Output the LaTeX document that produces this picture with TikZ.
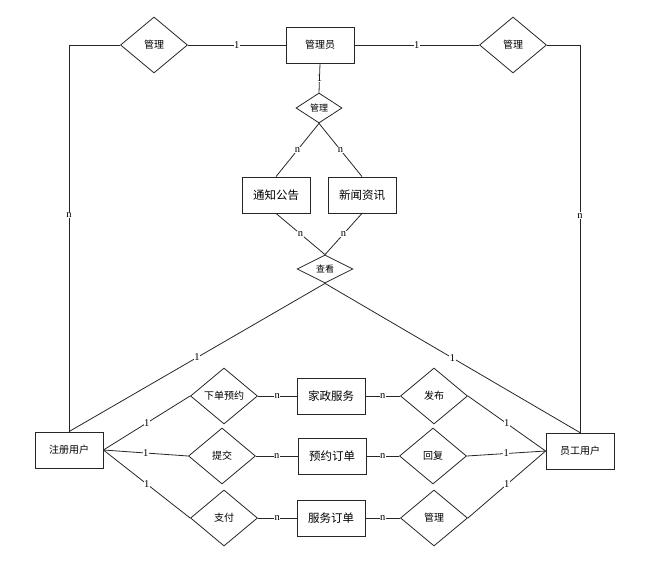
\documentclass[tikz,border=0pt]{standalone}
\usepackage{fontspec}
\setmainfont{Liberation Serif}
\newfontfamily\cjk{Noto Sans CJK SC}
\usetikzlibrary{shapes.geometric}
\begin{document}
\begin{tikzpicture}[x=1pt,y=-1pt, line width=0.8pt, draw=black!85,
  ent/.style={draw, rectangle, minimum width=68pt, minimum height=36pt, inner sep=0pt, font=\cjk\fontsize{11.5}{13}\selectfont},
  sent/.style={ent, font=\cjk\fontsize{10}{12}\selectfont},
  rel/.style={draw, diamond, minimum width=67pt, minimum height=56pt, inner sep=0pt, font=\cjk\fontsize{10}{12}\selectfont},
  lbl/.style={fill=white, inner sep=0.6pt, font=\fontsize{10.5}{11}\selectfont}]
\useasboundingbox (0,0) rectangle (664,562);
% entities
\node[sent] (admin) at (320,45) {管理员};
\node[ent] (notice) at (276,195) {通知公告};
\node[ent] (news) at (362,195) {新闻资讯};
\node[sent] (user) at (69,450) {注册用户};
\node[sent] (staff) at (580,451) {员工用户};
\node[ent] (svc) at (331,396) {家政服务};
\node[ent] (book) at (332,456) {预约订单};
\node[ent] (order) at (331,518) {服务订单};
% relations
\node[rel] (dL) at (154,45) {管理};
\node[rel] (dR) at (513,45) {管理};
\node[rel, minimum width=46pt, minimum height=30pt, font=\cjk\fontsize{9}{11}\selectfont] (dM) at (319,108) {管理};
\node[rel, minimum width=56pt, minimum height=28pt, font=\cjk\fontsize{9}{11}\selectfont] (look) at (325,269) {查看};
\node[rel] (r1) at (224,396) {下单预约};
\node[rel] (r2) at (222,456) {提交};
\node[rel] (r3) at (224,518) {支付};
\node[rel] (s1) at (434,396) {发布};
\node[rel] (s2) at (433,456) {回复};
\node[rel] (s3) at (434,518) {管理};
% connectors
\draw (dL.east) -- node[lbl]{1} (admin.west);
\draw (admin.east) -- node[lbl]{1} (dR.west);
\draw (dL.west) -| node[lbl, pos=0.72]{n} (user.north);
\draw (dR.east) -| node[lbl, pos=0.72]{n} (staff.north);
\draw (admin.south) -- node[lbl]{1} (dM.north);
\draw (dM.south) -- node[lbl]{n} (notice.north);
\draw (dM.south) -- node[lbl]{n} (news.north);
\draw (notice.south) -- node[lbl]{n} (look.north);
\draw (news.south) -- node[lbl]{n} (look.north);
\draw (look.south) -- node[lbl]{1} (user.north);
\draw (look.south) -- node[lbl]{1} (staff.north);
\draw (user.east) -- node[lbl]{1} (r1.west);
\draw (user.east) -- node[lbl]{1} (r2.west);
\draw (user.east) -- node[lbl]{1} (r3.west);
\draw (r1.east) -- node[lbl]{n} (svc.west);
\draw (r2.east) -- node[lbl]{n} (book.west);
\draw (r3.east) -- node[lbl]{n} (order.west);
\draw (svc.east) -- node[lbl]{n} (s1.west);
\draw (book.east) -- node[lbl]{n} (s2.west);
\draw (order.east) -- node[lbl]{n} (s3.west);
\draw (s1.east) -- node[lbl]{1} (staff.west);
\draw (s2.east) -- node[lbl]{1} (staff.west);
\draw (s3.east) -- node[lbl]{1} (staff.west);
\end{tikzpicture}
\end{document}
